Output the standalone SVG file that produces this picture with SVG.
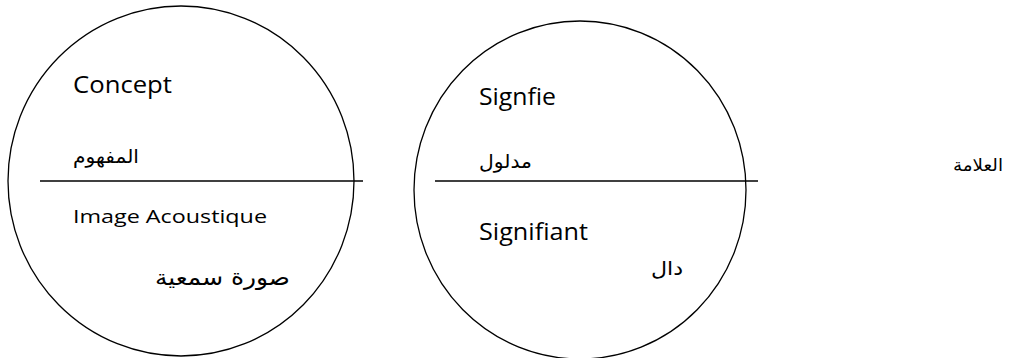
<svg xmlns="http://www.w3.org/2000/svg" width="1021" height="358" viewBox="0 0 1021 358">
<style>
.shape{fill:none;stroke:#000;stroke-width:1.3}
.lat{font-family:"Open Sans","Liberation Sans",sans-serif;fill:#000}
.ar{font-family:"DejaVu Sans","Noto Sans",sans-serif;fill:#000}
</style>
<rect width="1021" height="358" fill="#fff"/>
<g id="node-concept">
<ellipse class="shape" cx="181" cy="181" rx="173" ry="175"/>
<text class="lat" x="73" y="93" font-size="23.5" textLength="99" lengthAdjust="spacingAndGlyphs">Concept</text>
<text class="ar" x="73" y="163" font-size="19" textLength="66" lengthAdjust="spacingAndGlyphs">المفهوم</text>
<text class="lat" x="73" y="223" font-size="18.5" textLength="194" lengthAdjust="spacingAndGlyphs">Image Acoustique</text>
<text class="ar" x="155" y="285" font-size="22" textLength="135" lengthAdjust="spacingAndGlyphs">صورة  سمعية</text>
</g>
<g id="node-signifie">
<ellipse class="shape" cx="580" cy="190" rx="166" ry="169"/>
<text class="lat" x="479" y="105" font-size="23.5" textLength="77" lengthAdjust="spacingAndGlyphs">Signfie</text>
<text class="ar" x="479" y="168" font-size="19" textLength="53" lengthAdjust="spacingAndGlyphs">مدلول</text>
<text class="lat" x="479" y="240" font-size="23.5" textLength="109" lengthAdjust="spacingAndGlyphs">Signifiant</text>
<text class="ar" x="651" y="275" font-size="19" textLength="32" lengthAdjust="spacingAndGlyphs">دال</text>
</g>
<g id="node-alamah">
<text class="ar" x="953" y="171" font-size="17" textLength="50" lengthAdjust="spacingAndGlyphs">العلامة</text>
</g>
<g id="connectors">
<line class="shape" x1="40" y1="181" x2="363" y2="181"/>
<line class="shape" x1="435" y1="181" x2="758" y2="181"/>
</g>
</svg>
